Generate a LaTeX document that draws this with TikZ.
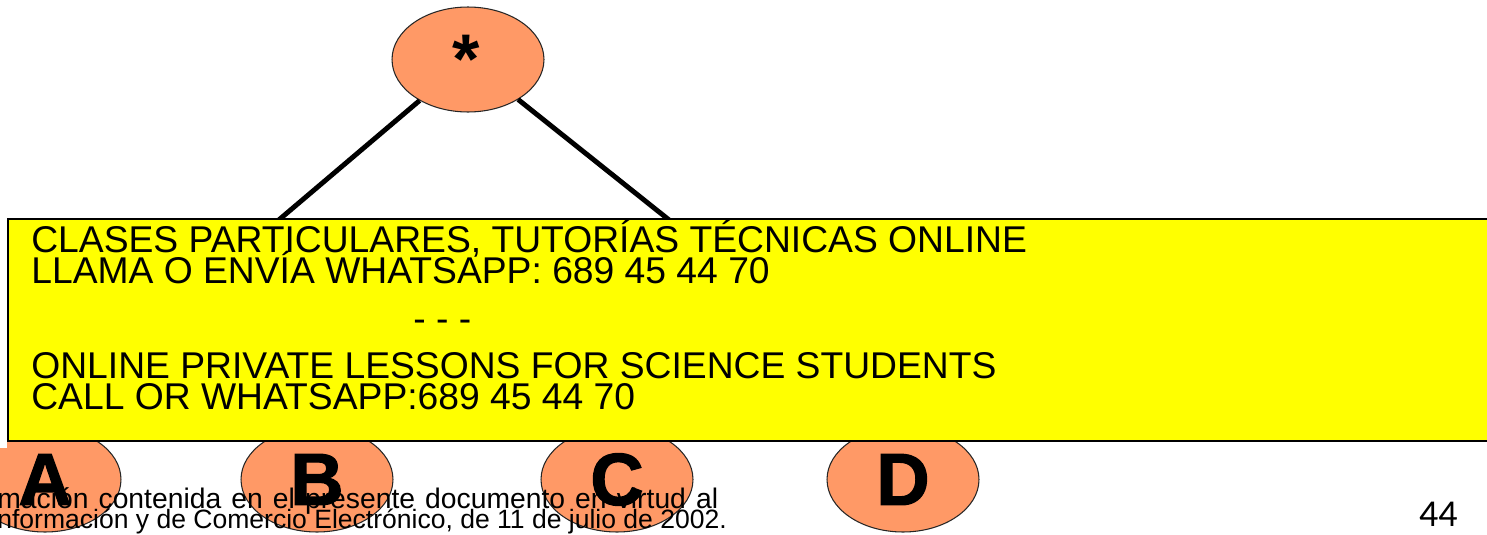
\documentclass[tikz,border=0pt]{standalone}
\usepackage{fontspec}
\setmainfont{Liberation Sans}
\newfontfamily\pagenumfont{Carlito}
\newfontfamily\leaffont{Liberation Sans Bold}[FakeBold=1.6]
\usetikzlibrary{shapes.geometric}
\definecolor{nodeorange}{RGB}{255,153,102}
\definecolor{bannerfill}{RGB}{255,255,0}
\tikzset{
	treenode/.style={ellipse, draw=black!85, line width=0.6pt, fill=nodeorange,
		minimum width=3.04cm, minimum height=2.1cm, inner sep=0pt,
		font=\leaffont\fontsize{42}{42}\selectfont},
	treeedge/.style={line width=2.8pt},
	bannerline/.style={anchor=base west, inner sep=0pt, font=\fontsize{21.2}{21.2}\selectfont},
	footline/.style={anchor=base west, inner sep=0pt, font=\fontsize{15.1}{15.1}\selectfont}
}

\begin{document}
\begin{tikzpicture}[x=0.02cm, y=-0.02cm]
			%%%%% START %%%%%
			\useasboundingbox (0, 0) rectangle (1487, 534);
			
			% root and its two (covered) branches
			\node[treenode] (root) at (468, 59.5) {};
			\node[anchor=base, inner sep=0pt, font=\bfseries\fontsize{40}{40}\selectfont] (star) at (466, 83) {*};
			\coordinate (lkid) at (149, 330);
			\coordinate (rkid) at (807, 330);
			\draw[treeedge] (root) -- (lkid);
			\draw[treeedge] (root) -- (rkid);
			
			% leaves
			\node[treenode] (a) at (45, 479.5) {A};
			\node[treenode] (b) at (317, 479.5) {B};
			\node[treenode] (c) at (617, 479.5) {C};
			\node[treenode] (d) at (903, 479.5) {D};
			\fill[white] (-2, 430) rectangle (7, 448);
			
			% banner
			\draw[fill=bannerfill, line width=1.1pt] (8, 219) rectangle (1500, 441);
			\node[bannerline] (ad1) at (31, 252) {CLASES PARTICULARES, TUTORÍAS TÉCNICAS ONLINE};
			\node[bannerline] (ad2) at (31, 283) {LLAMA O ENVÍA WHATSAPP: 689 45 44 70};
			\node[bannerline] (ad3) at (413, 331) {- - -};
			\node[bannerline] (ad4) at (31, 378) {ONLINE PRIVATE LESSONS FOR SCIENCE STUDENTS};
			\node[bannerline] (ad5) at (31, 409) {CALL OR WHATSAPP:689 45 44 70};
			
			% footer
			\node[footline, font=\fontsize{16.1}{16.1}\selectfont] (foot1) at (-3, 508) {\makebox[14.42cm][s]{mación contenida en el presente documento en virtud al}};
			\node[footline] (foot2) at (-3, 528) {nformación y de Comercio Electrónico, de 11 de julio de 2002.};
			\node[anchor=base east, inner sep=0pt, font=\pagenumfont\fontsize{21.6}{21.6}\selectfont] (pagenum) at (1458, 526) {44};
			%%%%% END %%%%%
\end{tikzpicture}
\end{document}
